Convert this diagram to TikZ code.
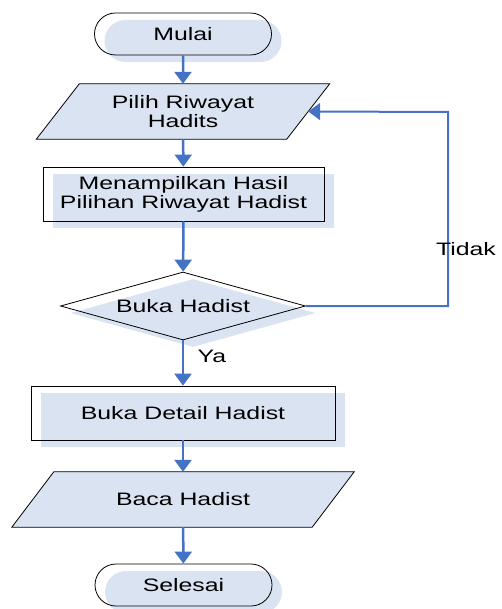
\documentclass[tikz,border=0pt]{standalone}
\usepackage{fontspec}
\setmainfont[FakeStretch=1.38]{Liberation Sans}
\usepackage{xcolor}
\definecolor{garis}{RGB}{68,114,196}
\definecolor{bayang}{RGB}{218,227,242}
\usetikzlibrary{arrows.meta}
\usetikzlibrary{shapes.geometric}
\usetikzlibrary{shapes.misc}
\usetikzlibrary{shadows}
\usetikzlibrary{backgrounds}
\tikzset{every node/.style={font=\fontsize{18}{19}\selectfont, align=center, inner sep=0pt},
 bayangan/.style={drop shadow={shadow xshift=10pt, shadow yshift=-7pt, opacity=1, fill=bayang}},
 terminal/.style={rounded rectangle, draw, thick, bayangan, minimum width=177pt, minimum height=42pt},
 proses/.style={rectangle, draw, thick, bayangan, minimum height=54pt},
 io/.style={rectangle, minimum height=55pt},
 keputusan/.style={diamond, draw, thick, bayangan, minimum width=245pt, minimum height=68pt, aspect=3.6},
 alur/.style={draw=garis, line width=2.5pt, -{Triangle[width=17pt,length=12pt]}},
}
% jajaran genjang di sekeliling node #1, setengah kemiringan #2
\newcommand{\jajar}[2]{%
  \begin{pgfonlayer}{background}
  \fill[bayang, shift={(10pt,-7pt)}] ([xshift=#2]#1.north west) -- ([xshift=#2]#1.north east)
    -- ([xshift=-#2]#1.south east) -- ([xshift=-#2]#1.south west) -- cycle;
  \end{pgfonlayer}
  \draw[thick] ([xshift=#2]#1.north west) -- ([xshift=#2]#1.north east)
    -- ([xshift=-#2]#1.south east) -- ([xshift=-#2]#1.south west) -- cycle;
}

\begin{document}
\begin{tikzpicture}[x=1pt, y=-1pt]
    \useasboundingbox (0,0) rectangle (501,609);
    \node[terminal] (mulai) at (183,34) {Mulai};
    \node[io, minimum width=250pt] (pilih) at (183,111.5) {Pilih Riwayat\\Hadits};
    \node[proses, minimum width=281pt] (tampil) at (183.5,194) {Menampilkan Hasil\\Pilihan Riwayat Hadist};
    \node[keputusan] (buka) at (183,306) {Buka Hadist};
    \node[proses, minimum width=304pt] (detail) at (183,413) {Buka Detail Hadist};
    \node[io, minimum width=300pt] (baca) at (183,499.5) {Baca Hadist};
    \node[terminal] (selesai) at (183.5,585) {Selesai};
    \jajar{pilih}{21.5pt}
    \jajar{baca}{21pt}
    \coordinate (kanan) at (448,112);

    \draw[alur] (mulai) -- (pilih);
    \draw[alur] (pilih) -- (tampil);
    \draw[alur] (tampil) -- (buka);
    \draw[alur] (buka) -- (detail);
    \draw[alur] (detail) -- (baca);
    \draw[alur] (baca) -- (selesai);
    \draw[alur, line width=2pt] (buka.east) -| (kanan) -- (pilih.east);

    \node (tidak) at (466,249) {Tidak};
    \node (ya) at (212,356) {Ya};
\end{tikzpicture}
\end{document}
